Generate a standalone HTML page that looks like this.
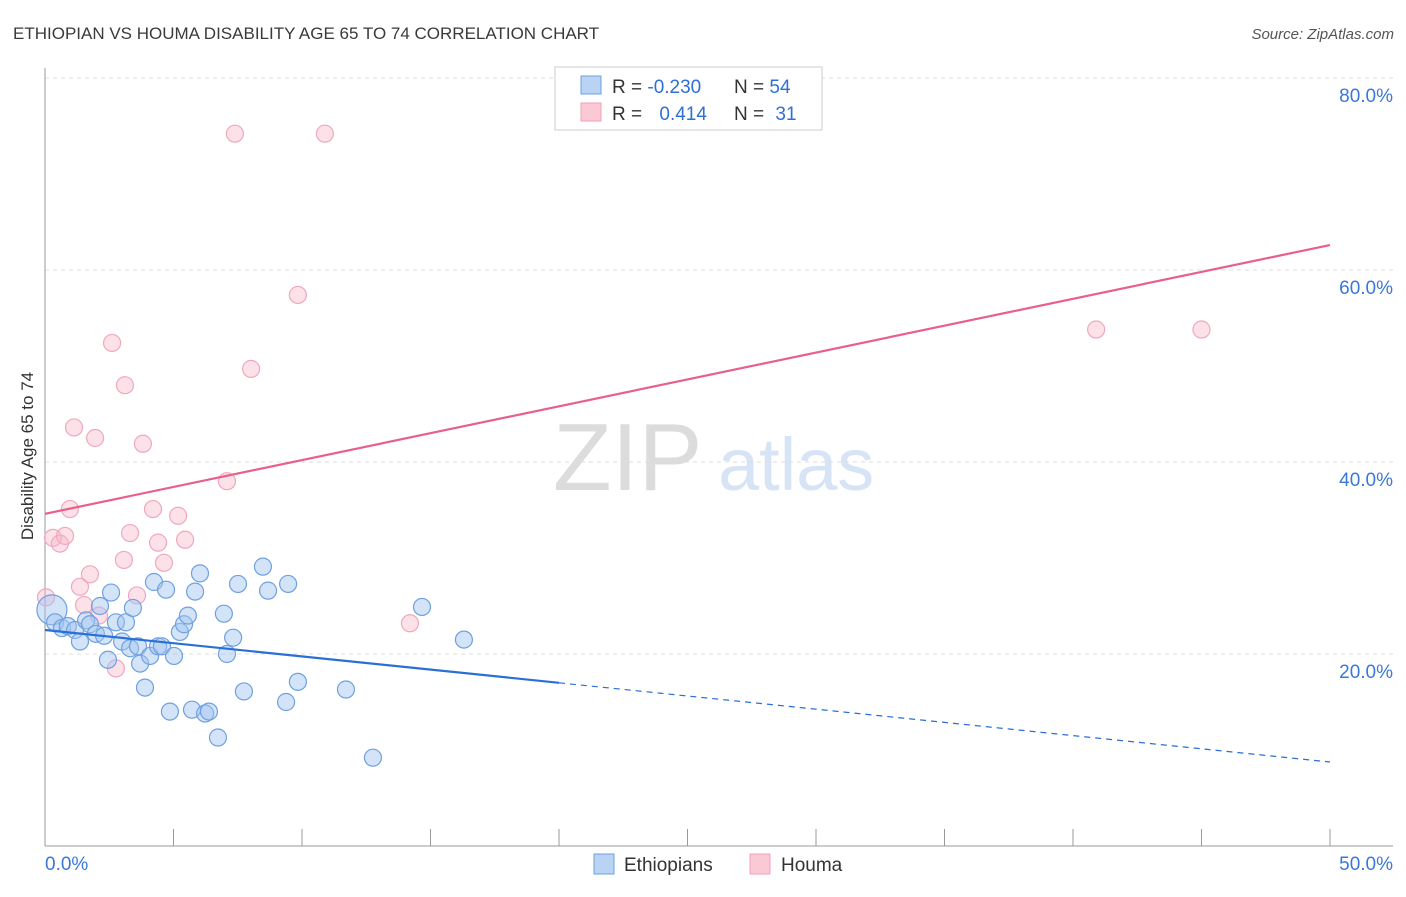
<!DOCTYPE html>
<html><head><meta charset="utf-8"><style>
body{margin:0;background:#fff;font-family:"Liberation Sans",sans-serif;}
svg text{font-family:"Liberation Sans",sans-serif;}
</style></head><body>
<svg width="1406" height="892" viewBox="0 0 1406 892" xmlns="http://www.w3.org/2000/svg">
<text x="13" y="39" font-size="17" fill="#3a3a3a">ETHIOPIAN VS HOUMA DISABILITY AGE 65 TO 74 CORRELATION CHART</text>
<text x="1394" y="39" font-size="15" fill="#555" text-anchor="end" font-style="italic">Source: ZipAtlas.com</text>
<g>
<text x="553" y="490" font-size="96" fill="#dcdcdc" font-family="Liberation Serif">ZIP</text>
<text x="718" y="490" font-size="74" fill="#d6e4f6">atlas</text>
</g>
<g id="grid"></g>
<g id="axes"></g>
<g id="marks"></g>
<g id="lines"></g>
<text transform="translate(33,456) rotate(-90)" font-size="17" fill="#333" text-anchor="middle">Disability Age 65 to 74</text>
<g>
<rect x="555" y="67" width="267" height="63" fill="#fff" stroke="#ccc"/>
<rect x="581" y="76" width="20" height="18" fill="#b9d3f5" stroke="#6fa0e0"/>
<rect x="581" y="103" width="20" height="18" fill="#fbc8d6" stroke="#f0a0b8"/>
<text x="612" y="93" font-size="19" fill="#333">R = <tspan fill="#2f6fd6">-0.230</tspan></text>
<text x="734" y="93" font-size="19" fill="#333">N = <tspan fill="#2f6fd6">54</tspan></text>
<text x="612" y="120" font-size="19" fill="#333">R = <tspan fill="#2f6fd6" dx="12">0.414</tspan></text>
<text x="734" y="120" font-size="19" fill="#333">N = <tspan fill="#2f6fd6" dx="6">31</tspan></text>
</g>
<g>
<rect x="594" y="854" width="20" height="20" fill="#b9d3f5" stroke="#6fa0e0"/>
<text x="624" y="871" font-size="19" fill="#333">Ethiopians</text>
<rect x="750" y="854" width="20" height="20" fill="#fbc8d6" stroke="#f0a0b8"/>
<text x="781" y="871" font-size="19" fill="#333">Houma</text>
</g>
</svg>
<script>
const yTicks=[20,40,60,80];
const yTickLabels=["20.0%","40.0%","60.0%","80.0%"];
const xTickLabels=["0.0%","50.0%"];
const ethX=[0.27,0.39,0.66,0.89,1.17,1.36,1.60,1.75,1.98,2.14,2.30,2.45,2.57,2.76,3.00,3.15,3.31,3.42,3.62,3.70,3.89,4.09,4.24,4.40,4.55,4.71,4.86,5.02,5.25,5.41,5.56,5.72,5.84,6.03,6.23,6.38,6.73,6.96,7.08,7.32,7.51,7.74,8.48,8.68,9.38,9.46,9.84,11.71,12.76,14.67,16.30];
const ethY=[24.6,23.3,22.7,22.9,22.5,21.3,23.5,23.1,22.1,25.0,21.9,19.4,26.4,23.3,21.3,23.3,20.6,24.8,20.8,19.0,16.5,19.8,27.5,20.8,20.8,26.7,14.0,19.8,22.3,23.1,24.0,14.2,26.5,28.4,13.8,14.0,11.3,24.2,20.0,21.7,27.3,16.1,29.1,26.6,15.0,27.3,17.1,16.3,9.2,24.9,21.5];
const houX=[0.04,0.31,0.58,0.78,0.97,1.13,1.36,1.52,1.75,1.95,2.10,2.61,2.76,3.07,3.11,3.31,3.58,3.81,4.20,4.40,4.63,5.18,5.45,7.08,7.39,8.02,9.84,10.89,14.2,40.9,45.0];
const houY=[25.9,32.1,31.5,32.3,35.1,43.6,27.0,25.1,28.3,42.5,24.0,52.4,18.5,29.8,48.0,32.6,26.1,41.9,35.1,31.6,29.5,34.4,31.9,38.0,74.2,49.7,57.4,74.2,23.2,53.8,53.8];
const ethTrend=[22.5,8.75];   // value at x=0 and x=50
const houTrend=[34.6,62.6];
const ethSolidEnd=20.0;
const NS="http://www.w3.org/2000/svg";
const X=v=>45+v/50*1285;
const Y=v=>846-v*9.6;
function mk(tag,attrs,parent){const e=document.createElementNS(NS,tag);for(const k in attrs)e.setAttribute(k,attrs[k]);document.getElementById(parent).appendChild(e);return e;}
yTicks.forEach((t,i)=>{
 const g=mk('line',{x1:45,x2:1393,y1:Y(t),y2:Y(t),stroke:'#ddd','stroke-dasharray':'4,4'},'grid');
 
 
 const l=mk('text',{x:1393,y:Y(t)+24,'font-size':19,fill:'#3b78d8','text-anchor':'end'},'grid');
 l.textContent=yTickLabels[i];
 
 
});
const ya=mk('line',{x1:45,x2:45,y1:68,y2:846,stroke:'#999'},'axes');


const xa=mk('line',{x1:45,x2:1393,y1:846,y2:846,stroke:'#999'},'axes');


for(let i=0;i<=10;i++){
 const t=mk('line',{x1:X(i*5),x2:X(i*5),y1:829,y2:846,stroke:'#999'},'axes');
 
 
}
[[0,'start',45],[50,'end',1393]].forEach((d,i)=>{
 const l=mk('text',{x:d[2],y:870,'font-size':19,fill:'#3b78d8','text-anchor':d[1]},'axes');
 l.textContent=xTickLabels[i];
 
 
});
houX.forEach((x,i)=>{
 const c=mk('circle',{cx:X(x),cy:Y(houY[i]),r:8.5,fill:'rgba(248,180,200,0.4)',stroke:'#f0a8be','stroke-width':1.2},'marks');
 
 
});
ethX.forEach((x,i)=>{
 const c=mk('circle',{cx:X(x),cy:Y(ethY[i]),r:i===0?15:8.5,fill:'rgba(160,196,240,0.45)',stroke:'#6fa0e0','stroke-width':1.2},'marks');
 
 
});
const ev=x=>ethTrend[0]+(ethTrend[1]-ethTrend[0])*x/50;
const hl=mk('line',{x1:X(0),y1:Y(houTrend[0]),x2:X(50),y2:Y(houTrend[1]),stroke:'#e8608a','stroke-width':2.2},'lines');


const el=mk('line',{x1:X(0),y1:Y(ev(0)),x2:X(ethSolidEnd),y2:Y(ev(ethSolidEnd)),stroke:'#2a6fd6','stroke-width':2.2},'lines');


const ed=mk('line',{x1:X(ethSolidEnd),y1:Y(ev(ethSolidEnd)),x2:X(50),y2:Y(ev(50)),stroke:'#2a6fd6','stroke-width':1.2,'stroke-dasharray':'6,5'},'lines');


</script>
</body></html>
